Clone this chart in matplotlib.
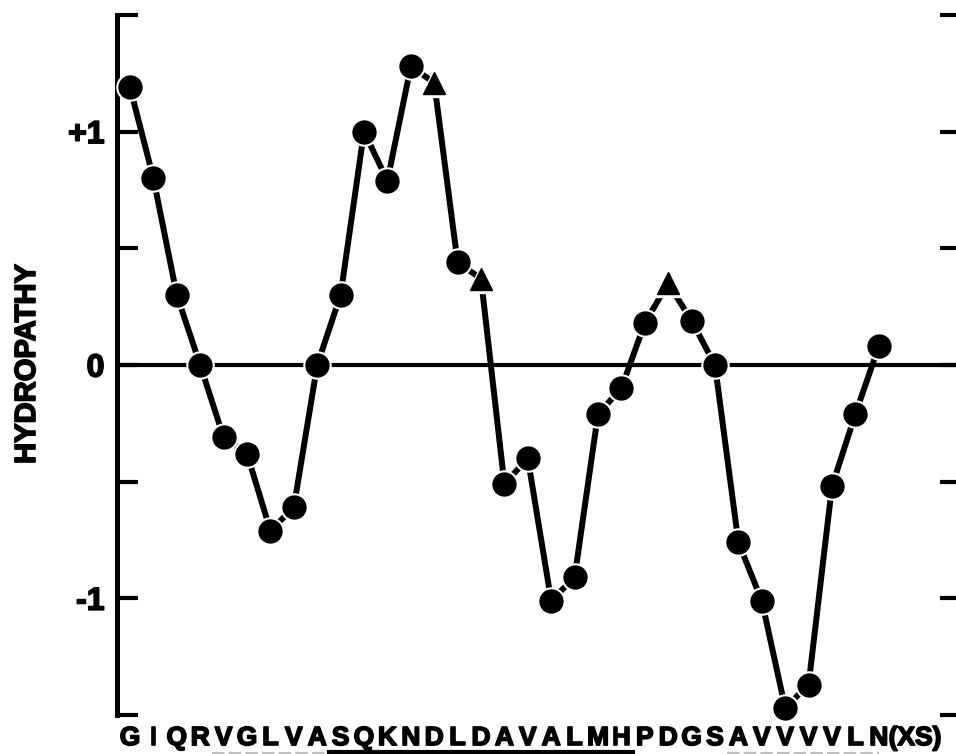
import matplotlib.pyplot as plt
import matplotlib.patheffects as pe
from matplotlib.transforms import blended_transform_factory

plt.rcParams['font.family'] = ['Liberation Sans', 'DejaVu Sans']
plt.rcParams['font.weight'] = 'bold'

# sequencia e valores de hidropatia (media movel)
residuos = list("GIQRVGLVASQKNDLDAVALMHPDGSAVVVVLN")
hidropatia = [1.19, 0.80, 0.30, 0.0, -0.31, -0.38, -0.71, -0.61, 0.0, 0.30,
              1.00, 0.79, 1.28, 1.21, 0.44, 0.37, -0.51, -0.40, -1.01, -0.91,
              -0.21, -0.10, 0.18, 0.35, 0.19, 0.0, -0.76, -1.01, -1.47, -1.37,
              -0.52, -0.21, 0.08]
triangulos = [13, 15, 23]

marcas_y = [-1.5, -1, -0.5, 0, 0.5, 1, 1.5]
rotulos_y = ['', '-1', '', '0', '', '+1', '']

# trechos sublinhados (inicio, fim) em indices de residuo
sublinhado = (8.5, 21.5)
tracejados = [(3.5, 8.4), (25.5, 32.0)]

# engrossa um pouco as letras
grosso = [pe.withStroke(linewidth=1.2, foreground='black')]

fig = plt.figure(figsize=(9.56, 7.54), dpi=100)
ax = fig.add_axes([117 / 956, 1 - 715 / 754, 1 - 117 / 956, 700 / 754])

x = list(range(len(residuos)))
circulos = [i for i in x if i not in triangulos]

ax.axhline(0, color='black', lw=3, zorder=1)
ax.plot(x, hidropatia, color='black', lw=4.3, solid_capstyle='round', zorder=2)

# halo branco em volta dos marcadores
ax.plot(circulos, [hidropatia[i] for i in circulos], 'o', ms=19.5,
        color='white', zorder=3, clip_on=False)
ax.plot(triangulos, [hidropatia[i] for i in triangulos], '^', ms=20,
        color='white', zorder=3, clip_on=False)
ax.plot(circulos, [hidropatia[i] for i in circulos], 'o', ms=16.5,
        color='black', zorder=4, clip_on=False)
ax.plot(triangulos, [hidropatia[i] for i in triangulos], '^', ms=16.5,
        color='black', zorder=4, clip_on=False)

ax.set_xlim(-0.556, 35.3)
ax.set_ylim(-1.5, 1.5)

for lado in ['top', 'right', 'bottom']:
    ax.spines[lado].set_visible(False)
ax.spines['left'].set_linewidth(3.6)

ax.set_yticks(marcas_y)
ax.set_yticklabels(rotulos_y, fontsize=23)
ax.tick_params(axis='y', direction='in', left=True, right=True,
               length=15, width=3, pad=9)
for t in ax.yaxis.get_major_ticks():
    t.tick2line.set_markersize(11.5)

ax.set_xticks(x)
ax.set_xticklabels(residuos, fontsize=19)
ax.tick_params(axis='x', length=0, pad=8)

for rot in ax.get_xticklabels() + ax.get_yticklabels():
    rot.set_path_effects(grosso)

ax.annotate('(XS)', xy=(32.42, 0), xycoords=('data', 'axes fraction'),
            xytext=(0, -8), textcoords='offset points', ha='left', va='top',
            fontsize=19, path_effects=grosso)

trans = blended_transform_factory(ax.transData, ax.transAxes)
ax.plot(sublinhado, [-0.053, -0.053], color='black', lw=3,
        transform=trans, clip_on=False)
for a, b in tracejados:
    ax.plot([a, b], [-0.055, -0.055], color='0.75', lw=3, ls=(0, (3, 1)),
            transform=trans, clip_on=False)

fig.text(27 / 956, 1 - 364 / 754, 'HYDROPATHY', rotation=90, ha='center',
         va='center', fontsize=21, path_effects=grosso)

fig.savefig('out.png', dpi=100)
